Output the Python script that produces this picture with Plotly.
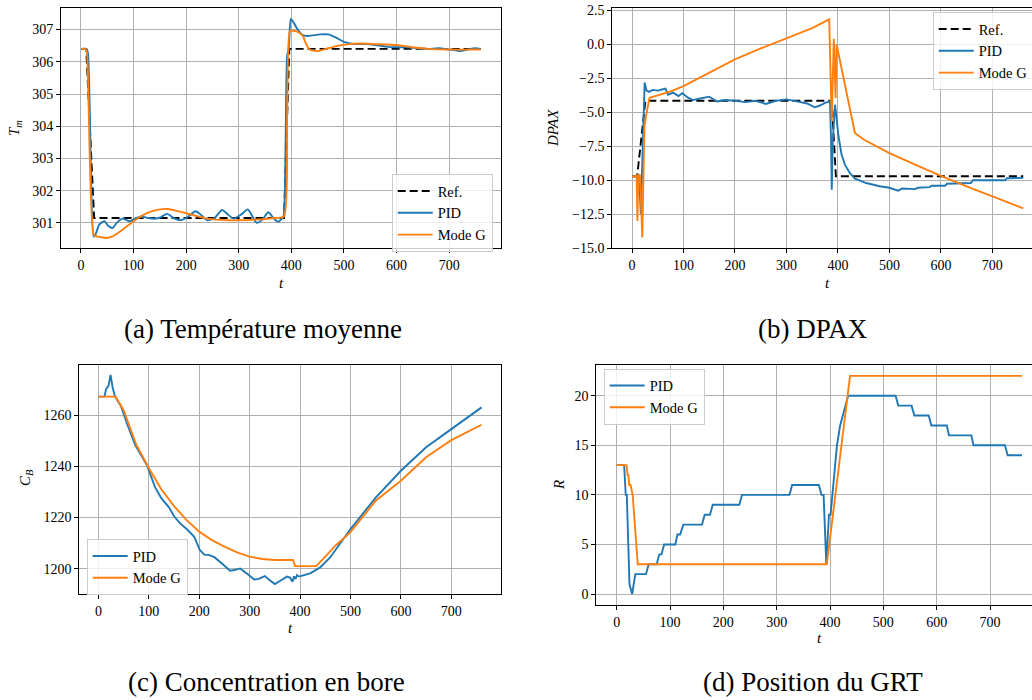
import plotly.graph_objects as go

# ---------------- data ----------------
# (a) Température moyenne
t_ref = [0, 10, 25, 386, 396, 760]
Tm_ref = [306.4, 306.4, 301.15, 301.15, 306.4, 306.4]

t_Tm_pid = [0, 10, 13, 24, 27, 35, 45, 52, 60, 68, 79, 92, 105, 114, 128, 142, 152, 164, 176, 189, 200, 218, 228, 240, 254,
            268, 280, 290, 304, 317, 326, 334, 345, 356, 366, 375, 380, 385, 389, 392, 395, 399, 405, 412, 420, 430, 440,
            455, 470, 485, 500, 520, 540, 560, 580, 600, 620, 640, 660, 680, 700, 712, 721, 735, 750, 760]
Tm_pid = [306.4, 306.4, 306.3, 300.58, 300.62, 300.95, 301.05, 300.9, 300.84, 301.0, 301.13, 301.05, 301.15, 301.2, 301.15,
          301.13, 301.18, 301.28, 301.15, 301.08, 301.15, 301.36, 301.25, 301.08, 301.15, 301.4, 301.25, 301.13, 301.25,
          301.42, 301.2, 301.0, 301.1, 301.33, 301.15, 301.03, 301.1, 301.2, 303.5, 306.2, 306.4, 307.33, 307.2, 307.0,
          306.85, 306.8, 306.82, 306.85, 306.85, 306.75, 306.62, 306.55, 306.55, 306.52, 306.47, 306.45, 306.45, 306.42,
          306.4, 306.42, 306.38, 306.36, 306.33, 306.38, 306.42, 306.4]

t_Tm_g = [0, 8, 11, 24, 30, 40, 48, 60, 80, 100, 125, 150, 165, 200, 240, 280, 300, 330, 370, 386, 392, 397, 402, 408,
          415, 422, 428, 435, 450, 470, 490, 510, 530, 560, 600, 630, 660, 700, 760]
Tm_g = [306.4, 306.4, 306.3, 300.63, 300.58, 300.55, 300.53, 300.58, 300.8, 301.05, 301.3, 301.42, 301.43, 301.3, 301.13,
        301.08, 301.08, 301.1, 301.15, 301.2, 304.5, 306.95, 306.97, 306.95, 306.9, 306.8, 306.55, 306.38, 306.33, 306.42,
        306.5, 306.55, 306.57, 306.55, 306.52, 306.45, 306.4, 306.38, 306.38]

# (b) DPAX
t_dpax_ref = [0, 10, 26, 388, 396, 760]
dpax_ref = [-9.7, -9.7, -4.15, -4.15, -9.7, -9.7]

t_dpax_pid = [0, 14, 17, 20, 23, 24.5, 28, 33, 40, 50, 60, 65, 70, 80, 90, 98, 108, 118, 130, 150, 165, 180, 200, 220, 240,
              260, 280, 300, 320, 340, 355, 365, 375, 384.6, 386.6, 388, 390, 392.6, 394.3, 397, 400.7, 407, 413.6, 423,
              433, 455, 481, 500, 517, 525, 550, 555, 578, 582, 608, 612, 658, 662, 725, 728, 760]
dpax_pid = [-9.7, -9.7, -12.5, -9.0, -4.5, -2.8, -3.4, -3.5, -3.35, -3.4, -3.3, -3.25, -3.7, -3.55, -3.8, -3.6, -3.9, -4.1,
            -4.0, -3.85, -4.2, -4.1, -4.15, -4.25, -4.15, -4.38, -4.15, -4.05, -4.2, -4.35, -4.63, -4.5, -4.3, -4.19, -7.0,
            -10.69, -7.13, -5.5, -4.44, -5.3, -6.65, -8.1, -8.85, -9.46, -9.88, -10.2, -10.44, -10.55, -10.76, -10.6,
            -10.65, -10.55, -10.5, -10.4, -10.4, -10.25, -10.2, -10.0, -10.0, -9.85, -9.82]

t_dpax_g = [0, 9, 10.5, 12, 15, 17, 20, 22, 24, 27, 34, 50, 75, 100, 150, 200, 250, 300, 350, 383, 388, 392, 395.5, 397.5,
            433, 450, 500, 550, 600, 650, 700, 760]
dpax_g = [-9.7, -9.7, -13.0, -9.6, -9.6, -11.0, -14.2, -10.0, -6.1, -5.3, -3.93, -3.75, -3.46, -3.07, -2.1, -1.1, -0.3,
          0.45, 1.2, 1.84, -5.66, 0.41, -3.95, -0.03, -6.52, -7.0, -8.0, -8.85, -9.68, -10.45, -11.2, -12.06]

# (c) Concentration en bore
t_cb_pid = [0, 12, 15, 20, 24, 28, 33, 45, 58, 73, 96, 112, 125, 140, 150, 162, 175, 190, 201, 210, 220, 230, 245, 261,
            270, 281, 295, 309, 318, 330, 340, 350, 360, 374, 380, 385, 388, 391, 394, 397, 401, 420, 440, 460, 500, 550,
            600, 650, 700, 760]
cb_pid = [1267.3, 1267.3, 1270.2, 1271.5, 1275.8, 1271, 1267.3, 1263.4, 1256, 1248.4, 1240.6, 1232, 1227.5, 1224, 1220.5,
          1217.7, 1215.5, 1212.5, 1207.3, 1205.5, 1205.3, 1204.5, 1202, 1199.2, 1199.5, 1200.1, 1198, 1195.8, 1196,
          1197.1, 1195.5, 1194, 1195.2, 1196.9, 1196.5, 1194.9, 1197, 1196, 1197.5, 1197, 1197.1, 1198.2, 1200.5, 1204.5,
          1215.5, 1227.8, 1238.3, 1247.5, 1254.6, 1263.1]

t_cb_g = [0, 34, 50, 75, 100, 125, 150, 175, 200, 225, 250, 275, 300, 325, 350, 386, 390, 432, 450, 470, 500, 550, 600,
          650, 700, 760]
cb_g = [1267.3, 1267.3, 1262, 1248.5, 1239.3, 1231, 1224.5, 1219, 1214.5, 1211.2, 1208.6, 1206.4, 1204.7, 1203.8, 1203.4,
        1203.4, 1201, 1201, 1204.7, 1209, 1214.3, 1226.6, 1234.4, 1243.6, 1250.3, 1256.3]

# (d) Position du GRT
t_r_pid = [0, 14, 17, 19, 24, 29, 35, 55, 60, 75, 80, 84, 89, 110, 114, 119, 125, 160, 165, 175, 180, 230, 235, 324, 329,
           379, 384, 388, 393, 398, 401, 413, 419, 434, 523, 528, 553, 558, 585, 590, 619, 623, 665, 669, 728, 733, 760]
r_pid = [13, 13, 10, 10, 1, 0, 2, 2, 3, 3, 4, 4, 5, 5, 6, 6, 7, 7, 8, 8, 9, 9, 10, 10, 11, 11, 10, 10, 3, 8, 8, 15, 17,
         20, 20, 19, 19, 18, 18, 17, 17, 16, 16, 15, 15, 14, 14]

t_r_g = [0, 18.5, 20.5, 22, 23.5, 26, 30, 39.5, 394, 437.5, 760]
r_g = [13, 13, 12, 12, 11, 11, 10, 3, 3, 22, 22]

captions = ["(a) Température moyenne", "(b) DPAX", "(c) Concentration en bore", "(d) Position du GRT"]

# ---------------- style ----------------
W, H = 1032, 700
FONT = "Liberation Serif"
BLUE = "#1f77b4"
ORANGE = "#ff7f0e"
LW = 1.9

fig = go.Figure()


def line(x, y, name, color, xa, ya, leg, dash=None, smooth=False):
    ln = dict(color=color, width=LW, dash=dash)
    if smooth:
        ln.update(shape="spline", smoothing=0.6)
    fig.add_trace(go.Scatter(x=x, y=y, mode="lines", name=name, xaxis=xa, yaxis=ya, legend=leg, line=ln))


line(t_ref, Tm_ref, "Ref.", "black", "x", "y", "legend", dash="8px,4px")
line(t_Tm_pid, Tm_pid, "PID", BLUE, "x", "y", "legend", smooth=True)
line(t_Tm_g, Tm_g, "Mode G", ORANGE, "x", "y", "legend", smooth=True)

line(t_dpax_ref, dpax_ref, "Ref.", "black", "x2", "y2", "legend2", dash="8px,4px")
line(t_dpax_pid, dpax_pid, "PID", BLUE, "x2", "y2", "legend2")
line(t_dpax_g, dpax_g, "Mode G", ORANGE, "x2", "y2", "legend2")

line(t_cb_pid, cb_pid, "PID", BLUE, "x3", "y3", "legend3")
line(t_cb_g, cb_g, "Mode G", ORANGE, "x3", "y3", "legend3")

line(t_r_pid, r_pid, "PID", BLUE, "x4", "y4", "legend4")
line(t_r_g, r_g, "Mode G", ORANGE, "x4", "y4", "legend4")


def px_x(p):
    return p / W


def px_y(p):
    return 1 - p / H


axis_common = dict(showgrid=True, gridcolor="#b0b0b0", gridwidth=0.8, zeroline=False,
                   showline=True, linecolor="black", linewidth=1,
                   ticks="outside", ticklen=4, tickwidth=0.8, tickcolor="black",
                   tickfont=dict(family=FONT, size=14, color="black"))

xt = dict(tickmode="array", tickvals=[0, 100, 200, 300, 400, 500, 600, 700])

fig.update_layout(
    xaxis=dict(**axis_common, **xt, domain=[px_x(61), px_x(500.7)], range=[-38, 798], anchor="y", mirror=True),
    yaxis=dict(**axis_common, domain=[px_y(248), px_y(8)], range=[300.22, 307.67], anchor="x", mirror=True,
               tickmode="array", tickvals=[301, 302, 303, 304, 305, 306, 307]),
    xaxis2=dict(**axis_common, **xt, domain=[px_x(612.3), 1.0], range=[-38.3, 777], anchor="y2", mirror=True),
    yaxis2=dict(**axis_common, domain=[px_y(248.3), px_y(8.3)], range=[-15, 2.65], anchor="x2", mirror=False,
                tickmode="array", tickvals=[2.5, 0, -2.5, -5, -7.5, -10, -12.5, -15], tickformat=".1f"),
    xaxis3=dict(**axis_common, **xt, domain=[px_x(79.3), px_x(500.7)], range=[-38, 798], anchor="y3", mirror=True),
    yaxis3=dict(**axis_common, domain=[px_y(594), px_y(364.7)], range=[1190.1, 1279.8], anchor="x3", mirror=True,
                tickmode="array", tickvals=[1200, 1220, 1240, 1260]),
    xaxis4=dict(**axis_common, **xt, domain=[px_x(596.3), 1.0], range=[-38.2, 778.7], anchor="y4", mirror=True),
    yaxis4=dict(**axis_common, domain=[px_y(605), px_y(364.7)], range=[-1.11, 23.13], anchor="x4", mirror=False,
                tickmode="array", tickvals=[0, 5, 10, 15, 20]),
)

leg_common = dict(bgcolor="rgba(255,255,255,0.8)", bordercolor="#cccccc", borderwidth=1,
                  font=dict(family=FONT, size=14.5, color="black"), xanchor="left", yanchor="top",
                  itemwidth=35)
fig.update_layout(
    legend=dict(**leg_common, x=px_x(391.7), y=px_y(174)),
    legend2=dict(**leg_common, x=px_x(932.7), y=px_y(12)),
    legend3=dict(**leg_common, x=px_x(86.7), y=px_y(539)),
    legend4=dict(**leg_common, x=px_x(603.7), y=px_y(368.5)),
)

annots = []
# axis titles
for (x, y, txt, ang) in [
    (281, 283, "<i>t</i>", 0), (827, 283, "<i>t</i>", 0), (290, 628, "<i>t</i>", 0), (819, 638, "<i>t</i>", 0),
    (15, 128, "<i>T</i><sub><i>m</i></sub>", -90), (553, 128, "<i>DPAX</i>", -90),
    (26, 478, "<i>C</i><sub><i>B</i></sub>", -90), (559, 485, "<i>R</i>", -90),
]:
    annots.append(dict(x=px_x(x), y=px_y(y), xref="paper", yref="paper", text=txt, showarrow=False,
                       textangle=ang, xanchor="center", yanchor="middle",
                       font=dict(family=FONT, size=15, color="black")))
# captions
for (x, y), txt in zip([(263, 329), (813, 329), (266, 682), (813, 682)], captions):
    annots.append(dict(x=px_x(x), y=px_y(y), xref="paper", yref="paper", text=txt, showarrow=False,
                       xanchor="center", yanchor="middle", font=dict(family=FONT, size=27, color="black")))

fig.update_layout(
    width=W, height=H, annotations=annots,
    margin=dict(l=0, r=0, t=0, b=0, pad=0, autoexpand=False),
    plot_bgcolor="white", paper_bgcolor="white",
    font=dict(family=FONT, size=14, color="black"),
)

fig.write_html("out.html", config={"displayModeBar": False},
               post_script="document.body.style.margin='0px';document.body.style.overflow='hidden';")
